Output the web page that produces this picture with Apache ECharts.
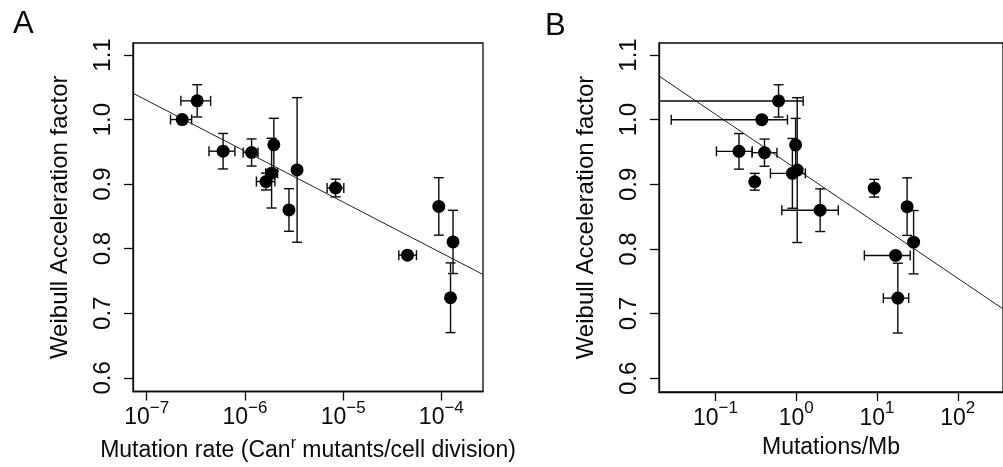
<!DOCTYPE html>
<html>
<head>
<meta charset="utf-8">
<script src="https://cdn.jsdelivr.net/npm/echarts@6/dist/echarts.min.js"></script>
<style>html,body{margin:0;padding:0;background:#fff}#c{width:1003px;height:467px}</style>
</head>
<body>
<div id="c"></div>
<script>
// ---- data (same 14 strains in both panels) ----
const accel      = [1.000, 1.029, 0.951, 0.949, 0.961, 0.904, 0.917, 0.860, 0.922, 0.894, 0.8655, 0.8105, 0.790, 0.724];
const accelErr   = [0.003, 0.025, 0.0275, 0.021, 0.041, 0.013, 0.054, 0.033, 0.112, 0.0137, 0.0445, 0.049, 0.004, 0.054];
// Panel A: mutation rate (Can^r mutants / cell division)
const mutRate    = [2.30e-7, 3.27e-7, 6.0e-7, 1.17e-6, 1.97e-6, 1.64e-6, 1.87e-6, 2.81e-6, 3.40e-6, 8.38e-6, 9.42e-5, 1.315e-4, 4.52e-5, 1.24e-4];
const mutRateLo  = [1.75e-7, 2.23e-7, 4.31e-7, 9.6e-7, null, 1.31e-6, 1.63e-6, null, null, 6.87e-6, null, null, 3.69e-5, null];
const mutRateHi  = [2.87e-7, 4.48e-7, 7.91e-7, 1.36e-6, null, 2.02e-6, 2.15e-6, null, null, 1.016e-5, null, null, 5.58e-5, null];
// Panel B: mutations / Mb
const mutMb      = [0.376, 0.605, 0.196, 0.405, 0.984, 0.307, 0.897, 1.98, 1.03, 9.25, 23.6, 28.4, 17.0, 18.1];
const mutMbLo    = [0.0284, 0.012, 0.103, 0.284, null, null, 0.480, 0.664, null, null, null, null, 6.98, 12.0];
const mutMbHi    = [0.780, 1.22, 0.286, 0.578, null, null, 1.30, 3.32, null, null, null, null, 25.8, 24.7];
// regression lines (endpoints at the plot edges)
const fitAx = [7.26e-8, 2.655e-4], fitAy = [1.0408, 0.760];
const fitBx = [0.02004, 363],      fitBy = [1.0675, 0.7073];
// axis ticks
const yTicks  = [0.6, 0.7, 0.8, 0.9, 1.0, 1.1];
const xTicksA = [1e-7, 1e-6, 1e-5, 1e-4];
const xTicksB = [1e-1, 1e0, 1e1, 1e2];
const xRangeA = [7.26e-8, 2.655e-4];
const xRangeB = [0.02004, 363];
const yRange  = [0.5788, 1.1186];

const FONT = '"Liberation Sans", Arial, sans-serif';
const INK = '#0a0a0a';
const chart = echarts.init(document.getElementById('c'), null, {renderer: 'canvas'});

function rows(xs, lo, hi) {
  return xs.map((x, i) => [x, accel[i], lo[i] == null ? x : lo[i], hi[i] == null ? x : hi[i], accel[i] - accelErr[i], accel[i] + accelErr[i]]);
}
function errRender(params, api) {
  const cs = params.coordSys;
  const x = api.value(0), y = api.value(1);
  const xl = api.value(2), xh = api.value(3), yl = api.value(4), yh = api.value(5);
  const st = {stroke: INK, lineWidth: 1.4, fill: null};
  const cap = 5;
  const ch = [];
  if (xl !== xh) {
    const p1 = api.coord([xl, y]), p2 = api.coord([xh, y]);
    const left = cs.x, right = cs.x + cs.width;
    const c1 = p1[0] >= left, c2 = p2[0] <= right;
    const a = Math.max(p1[0], left), b = Math.min(p2[0], right);
    ch.push({type: 'line', shape: {x1: a, y1: p1[1], x2: b, y2: p1[1]}, style: st});
    if (c1) ch.push({type: 'line', shape: {x1: a, y1: p1[1] - cap, x2: a, y2: p1[1] + cap}, style: st});
    if (c2) ch.push({type: 'line', shape: {x1: b, y1: p1[1] - cap, x2: b, y2: p1[1] + cap}, style: st});
  }
  if (yh - yl > 0.007) {
    const p1 = api.coord([x, yl]), p2 = api.coord([x, yh]);
    ch.push({type: 'line', shape: {x1: p1[0], y1: p1[1], x2: p2[0], y2: p2[1]}, style: st});
    ch.push({type: 'line', shape: {x1: p1[0] - cap, y1: p1[1], x2: p1[0] + cap, y2: p1[1]}, style: st});
    ch.push({type: 'line', shape: {x1: p2[0] - cap, y1: p2[1], x2: p2[0] + cap, y2: p2[1]}, style: st});
  }
  return {type: 'group', children: ch};
}

const supRich = {
  b: {fontSize: 23, fontFamily: FONT, color: INK},
  s: {fontSize: 17, fontFamily: FONT, color: INK, padding: [0, 0, 20, 0]}
};
function xAxisCfg(idx, range, ticks, name, nameRich) {
  return {
    type: 'log', logBase: 10, gridIndex: idx, min: range[0], max: range[1],
    name: name, nameLocation: 'middle', nameGap: 44,
    nameTextStyle: {fontSize: 23, fontFamily: FONT, color: INK, rich: nameRich},
    axisLine: {show: true, lineStyle: {color: INK, width: 1.3}},
    axisTick: {show: true, length: 9, customValues: ticks, lineStyle: {color: INK, width: 1.3}},
    axisLabel: {
      customValues: ticks, margin: 8, color: INK, rich: supRich,
      formatter: v => '{b|10}{s|' + String(Math.round(Math.log10(v))).replace('-', '\u2212') + '}'
    },
    splitLine: {show: false}, minorTick: {show: false}
  };
}
function yAxisCfg(idx) {
  return {
    type: 'value', gridIndex: idx, min: yRange[0], max: yRange[1],
    name: 'Weibull Acceleration factor', nameLocation: 'middle', nameGap: 61, nameRotate: 90,
    nameTextStyle: {fontSize: 24, fontFamily: FONT, color: INK},
    axisLine: {show: true, lineStyle: {color: INK, width: 1.3}},
    axisTick: {show: true, length: 9, customValues: yTicks, lineStyle: {color: INK, width: 1.3}},
    axisLabel: {customValues: yTicks, rotate: 90, margin: 18, fontSize: 24, fontFamily: FONT, color: INK,
      formatter: v => v.toFixed(1)},
    splitLine: {show: false}
  };
}

const option = {
  animation: false,
  backgroundColor: '#fff',
  title: [
    {text: 'A', left: 8, top: 4, textStyle: {fontSize: 31, fontWeight: 'normal', fontFamily: FONT, color: INK}},
    {text: 'B', left: 540, top: 6, textStyle: {fontSize: 31, fontWeight: 'normal', fontFamily: FONT, color: INK}}
  ],
  grid: [
    {left: 133, top: 43, width: 350, height: 349, show: true, borderColor: INK, borderWidth: 1.3, backgroundColor: 'transparent'},
    {left: 659, top: 43, width: 350, height: 349, show: true, borderColor: INK, borderWidth: 1.3, backgroundColor: 'transparent'}
  ],
  xAxis: [
    xAxisCfg(0, xRangeA, xTicksA, 'Mutation rate (Can{r|r} mutants/cell division)',
      {r: {fontSize: 16, fontFamily: FONT, color: INK, padding: [0, 0, 14, 0]}}),
    xAxisCfg(1, xRangeB, xTicksB, 'Mutations/Mb', {})
  ],
  yAxis: [yAxisCfg(0), yAxisCfg(1)],
  series: [
    {type: 'line', xAxisIndex: 0, yAxisIndex: 0, data: fitAx.map((x, i) => [x, fitAy[i]]), symbol: 'none',
      lineStyle: {color: '#222', width: 1}, silent: true},
    {type: 'line', xAxisIndex: 1, yAxisIndex: 1, data: fitBx.map((x, i) => [x, fitBy[i]]), symbol: 'none',
      lineStyle: {color: '#222', width: 1}, silent: true},
    {type: 'custom', xAxisIndex: 0, yAxisIndex: 0, renderItem: errRender, data: rows(mutRate, mutRateLo, mutRateHi), z: 3},
    {type: 'custom', xAxisIndex: 1, yAxisIndex: 1, renderItem: errRender, data: rows(mutMb, mutMbLo, mutMbHi), z: 3},
    {type: 'scatter', xAxisIndex: 0, yAxisIndex: 0, data: mutRate.map((x, i) => [x, accel[i]]), symbolSize: 13,
      itemStyle: {color: '#000', opacity: 1}, z: 4},
    {type: 'scatter', xAxisIndex: 1, yAxisIndex: 1, data: mutMb.map((x, i) => [x, accel[i]]), symbolSize: 13,
      itemStyle: {color: '#000', opacity: 1}, z: 4}
  ]
};
chart.setOption(option);
</script>
</body>
</html>
